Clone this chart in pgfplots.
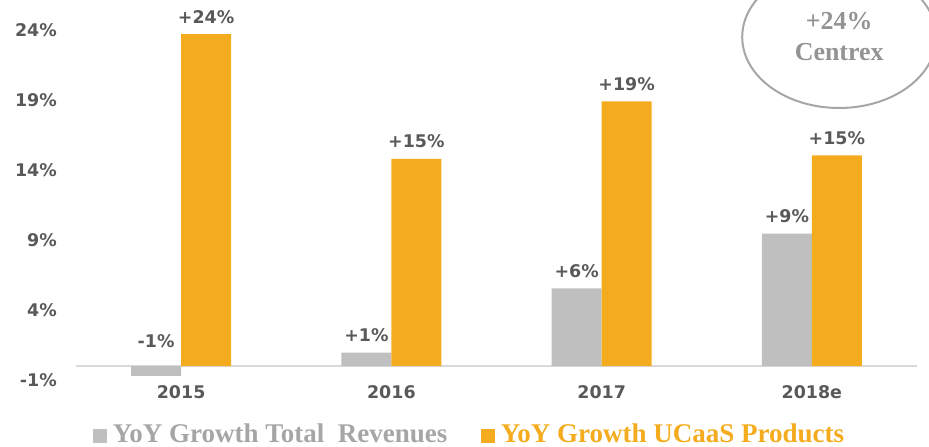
\documentclass[border=0pt]{standalone}
\usepackage{fontspec}
\setmainfont{Liberation Serif}
\newfontfamily\lblfont{DejaVu Sans}
\usepackage{pgfplots}
\pgfplotsset{compat=1.18}
\usetikzlibrary{calc}
\definecolor{gbar}{HTML}{BFBFBF}
\definecolor{obar}{HTML}{F4AC1E}
\definecolor{lblgray}{HTML}{595959}
\definecolor{leggray}{HTML}{A6A6A6}
\definecolor{ellgray}{HTML}{A6A6A6}
\definecolor{centgray}{HTML}{939393}
\definecolor{axgray}{HTML}{D9D9D9}
\begin{document}
\begin{tikzpicture}
\begin{axis}[
  name=ax,
  ybar=0pt, bar width=50bp,
  scale only axis, width=841bp, height=350bp,
  xmin=-0.5, xmax=3.5, ymin=-1, ymax=24,
  axis line style={draw=none},
  major tick length=0pt,
  xtick={0,1,2,3}, xticklabels={2015,2016,2017,2018e},
  ytick={-1,4,9,14,19,24}, yticklabels={-1\%,4\%,9\%,14\%,19\%,24\%},
  tick label style={font=\lblfont\bfseries\fontsize{17.5}{20}\selectfont, text=lblgray},
  yticklabel style={inner sep=0pt, xshift=-19bp},
  xticklabel style={inner sep=0pt, yshift=-5bp},
  clip=false,
  nodes near coords, point meta=explicit symbolic,
  visualization depends on={y \as \rawy},
  every node near coord/.append style={font=\lblfont\bfseries\fontsize{17.5}{20}\selectfont, text=lblgray, anchor=south, inner sep=0pt, yshift={ifthenelse(\rawy<0,28,10.5)*1bp}},
  legend style={draw=none, fill=none, at={(axis description cs:0.4675,-0.154)}, anchor=center, legend columns=2,
    font=\bfseries\fontsize{27.1}{29}\selectfont, /tikz/every even column/.append style={column sep=32bp},
    nodes={inner sep=1.5bp}, cells={anchor=west}},
  legend image code/.code={\fill[#1] (0bp,-9.5bp) rectangle (14.5bp,4.5bp); \path (0bp,0bp) -- (18.5bp,0bp);},
]
\draw[axgray, line width=1.5bp] (axis cs:-0.5,0) -- (axis cs:3.5,0);
\addplot[fill=gbar, draw=none] coordinates {(0,-0.7)[-1\%] (1,0.95)[+1\%] (2,5.55)[+6\%] (3,9.45)[+9\%]};
\addplot[fill=obar, draw=none] coordinates {(0,23.7)[+24\%] (1,14.8)[+15\%] (2,18.9)[+19\%] (3,15.05)[+15\%]};
\legend{\textcolor{leggray}{YoY Growth Total~ Revenues},\textcolor{obar}{YoY Growth UCaaS Products}}
\draw[ellgray, line width=2bp] (axis cs:3.13,23.5) ellipse [x radius=97bp, y radius=71bp];
\node[font=\bfseries\fontsize{26}{28}\selectfont, text=centgray, anchor=base] at (axis cs:3.13,24.04) {+24\%};
\node[font=\bfseries\fontsize{26}{28}\selectfont, text=centgray, anchor=base] at (axis cs:3.13,21.79) {Centrex};
\end{axis}
\pgfresetboundingbox
\path[use as bounding box] ($(ax.south west)+(-76bp,-67bp)$) rectangle ($(ax.north east)+(12bp,30bp)$);
\end{tikzpicture}
\end{document}
